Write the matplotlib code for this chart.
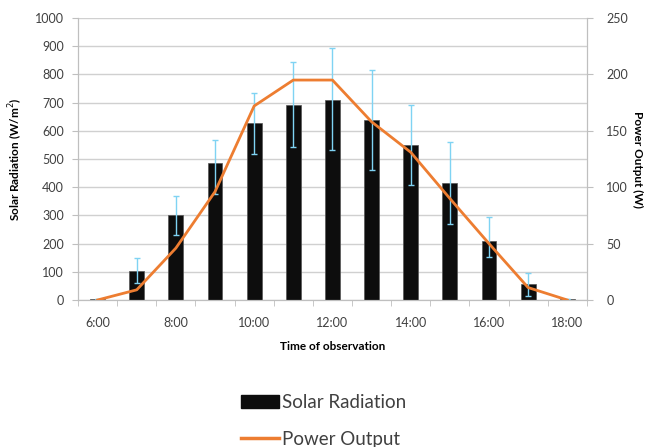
import numpy as np
import matplotlib.pyplot as plt
from matplotlib.lines import Line2D
from matplotlib.patches import Patch

plt.rcParams['font.family'] = ['Lato', 'DejaVu Sans']

# ────────────────────────────────────────────────
# Data
# ────────────────────────────────────────────────
hours = ["6:00", "7:00", "8:00", "9:00", "10:00", "11:00", "12:00",
         "13:00", "14:00", "15:00", "16:00", "17:00", "18:00"]
radiation = [2, 103, 300, 485, 628, 692, 708, 637, 548, 415, 210, 56, 3]
rad_upper = [2, 149, 368, 567, 735, 845, 892, 815, 690, 559, 296, 97, 3]
rad_lower = [2, 59, 229, 376, 518, 542, 531, 460, 409, 269, 152, 14, 3]
power = [0, 9, 46, 96, 172, 195, 195, 158, 131, 90, 50, 11, 0]

x = np.arange(len(hours))
err = [np.array(radiation) - np.array(rad_lower),
       np.array(rad_upper) - np.array(radiation)]

# ────────────────────────────────────────────────
# Plotting
# ────────────────────────────────────────────────
fig = plt.figure(figsize=(6.47, 4.47), dpi=100)
ax = fig.add_axes([0.1206, 0.3289, 0.7864, 0.6308])
ax2 = ax.twinx()

ax.set_axisbelow(True)
ax.yaxis.grid(True, color='#d0d0d0', linewidth=1)
ax.bar(x, radiation, width=0.38, color='#0d0d0d', edgecolor='#555555',
       linewidth=0.5, zorder=2)
ax.errorbar(x, radiation, yerr=err, fmt='none', ecolor='#7fd3f3',
            elinewidth=1, capsize=2.5, capthick=1, zorder=3)

ax2.plot(x, power, color='#ed7d31', linewidth=2, zorder=4)

ax.set_xlim(-0.5, 12.5)
ax.set_ylim(0, 1000)
ax2.set_ylim(0, 250)
ax.set_yticks(np.arange(0, 1001, 100))
ax2.set_yticks(np.arange(0, 251, 50))

# category labels every other hour, tick marks on boundaries
ax.set_xticks(x[::2])
ax.set_xticklabels(hours[::2])
ax.set_xticks(np.arange(-0.5, 13, 1), minor=True)
ax.tick_params(axis='x', which='major', length=0, pad=12, labelsize=9,
               colors='#404040')
ax.tick_params(axis='x', which='minor', length=4, color='#bfbfbf')
ax.tick_params(axis='y', length=4, color='#bfbfbf', labelsize=9,
               labelcolor='#404040', pad=6)
ax2.tick_params(axis='y', length=4, color='#bfbfbf', labelsize=9,
                labelcolor='#404040', pad=10)

for a in (ax, ax2):
    a.spines['top'].set_visible(False)
    for s in ['left', 'right', 'bottom']:
        a.spines[s].set_color('#bfbfbf')

ax.set_xlabel("Time of observation", fontsize=8.5, fontweight='bold', labelpad=9)
ax.set_ylabel("Solar Radiation (W/m$^2$)", fontsize=8.5, fontweight='bold',
              labelpad=7)
ax2.set_ylabel("Power Output (W)", fontsize=8.5, fontweight='bold',
               rotation=270, labelpad=11)

handles = [Patch(facecolor='#0d0d0d', edgecolor='#0d0d0d'),
           Line2D([0], [0], color='#ed7d31', linewidth=2.5)]
fig.legend(handles, ["Solar Radiation", "Power Output"],
           loc='upper left', bbox_to_anchor=(0.373, 0.118), frameon=False,
           fontsize=13.5, handlelength=2.0, labelspacing=1.03,
           handletextpad=0.15, borderaxespad=0, borderpad=0,
           labelcolor='#404040')

fig.savefig("out.png", dpi=100)
